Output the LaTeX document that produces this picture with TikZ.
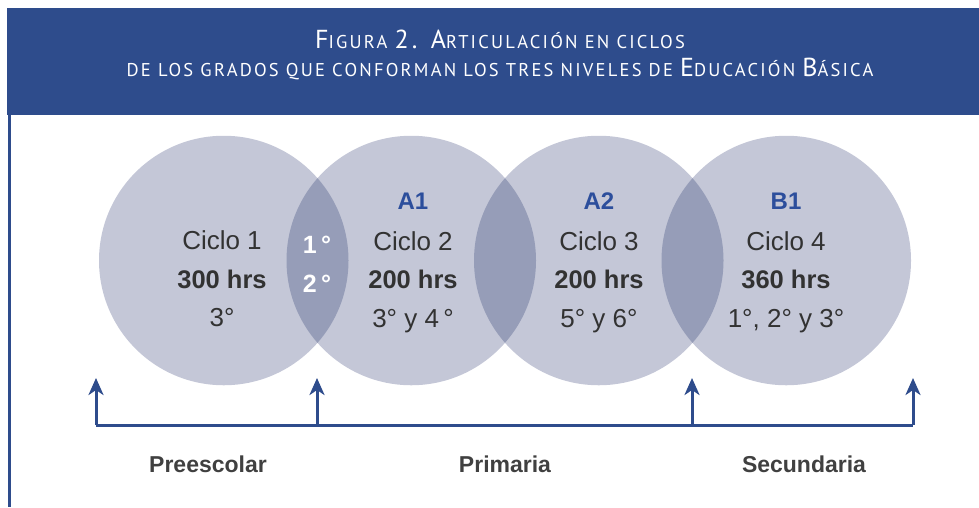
\documentclass[tikz,border=0pt]{standalone}
\usepackage{fontspec}
\setmainfont{Liberation Sans}
\newfontfamily\titlefont[LetterSpace=12]{PT Sans}
\usetikzlibrary{arrows.meta}
\definecolor{hdr}{RGB}{46,76,140}
\definecolor{circfill}{RGB}{196,199,215}
\definecolor{lensfill}{RGB}{150,157,184}
\definecolor{txtgray}{RGB}{50,50,50}
\definecolor{lblblue}{RGB}{44,78,156}
\definecolor{levgray}{RGB}{64,64,64}
\newcommand{\bigL}[1]{{\fontsize{26}{26}\selectfont #1}}
\newcommand{\smL}[1]{{\fontsize{18.5}{18.5}\selectfont #1}}
\tikzset{
  cyc/.style={circle, fill=circfill, minimum size=249.5pt, inner sep=0pt},
  ctext/.style={anchor=base, text=txtgray, font=\fontsize{26}{26}\selectfont, inner sep=0pt},
  chrs/.style={anchor=base, text=txtgray, font=\fontsize{25.5}{26}\selectfont\bfseries, inner sep=0pt},
  clbl/.style={anchor=base, text=lblblue, font=\fontsize{24}{24}\selectfont\bfseries, inner sep=0pt},
  lenstxt/.style={anchor=base, text=white, font=\fontsize{25}{26}\selectfont\bfseries, inner sep=0pt},
  levtxt/.style={anchor=base, text=levgray, font=\fontsize{23}{24}\selectfont\bfseries, inner sep=0pt},
  arr/.style={draw=hdr, line width=3pt, -{Stealth[length=17pt, width=15pt, inset=5pt]}},
  baseln/.style={draw=hdr, line width=3pt},
  ttl/.style={anchor=base, text=white, inner sep=0pt, font=\titlefont}
}
\begin{document}
\begin{tikzpicture}[x=1pt,y=-1pt]
\useasboundingbox (0,0) rectangle (979,507);
% header
\fill[hdr] (7,8) rectangle (979,115);
\draw[hdr, line width=2.5pt] (9.5,115) -- (9.5,507);
\node[ttl] (t1) at (500,48) {\bigL{F}\smL{IGURA }\bigL{2. A}\smL{RTICULACIÓN EN CICLOS}};
\node[ttl] (t2) at (500,76) {\smL{DE LOS GRADOS QUE CONFORMAN LOS TRES NIVELES DE }\bigL{E}\smL{DUCACIÓN }\bigL{B}\smL{ÁSICA}};
% circles
\node[cyc] (c1) at (223.75,260.5) {};
\node[cyc] (c2) at (411.25,260.5) {};
\node[cyc] (c3) at (598.75,260.5) {};
\node[cyc] (c4) at (786.25,260.5) {};
\begin{scope}
  \clip (c1.center) circle (124.75pt);
  \fill[lensfill] (c2.center) circle (124.75pt);
\end{scope}
\begin{scope}
  \clip (c2.center) circle (124.75pt);
  \fill[lensfill] (c3.center) circle (124.75pt);
\end{scope}
\begin{scope}
  \clip (c3.center) circle (124.75pt);
  \fill[lensfill] (c4.center) circle (124.75pt);
\end{scope}
% texts circle 1
\node[ctext] (n1a) at (222,249) {Ciclo 1};
\node[chrs] (n1b) at (222,288) {300 hrs};
\node[ctext] (n1c) at (222,326) {3°};
% lens 1
\node[lenstxt] (l1) at (317,253) {1\,°};
\node[lenstxt] (l2) at (317,292) {2\,°};
% circle 2
\node[clbl] (a1) at (413,209) {A1};
\node[ctext] (n2a) at (413,250) {Ciclo 2};
\node[chrs] (n2b) at (413,288) {200 hrs};
\node[ctext] (n2c) at (413,327) {3° y 4\,°};
% circle 3
\node[clbl] (a2) at (599,209) {A2};
\node[ctext] (n3a) at (599,250) {Ciclo 3};
\node[chrs] (n3b) at (599,288) {200 hrs};
\node[ctext] (n3c) at (599,327) {5° y 6°};
% circle 4
\node[clbl] (b1) at (786,209) {B1};
\node[ctext] (n4a) at (786,250) {Ciclo 4};
\node[chrs] (n4b) at (786,288) {360 hrs};
\node[ctext] (n4c) at (786,327) {1°, 2° y 3°};
% arrows
\coordinate (p1) at (96,425);
\coordinate (p2) at (317,425);
\coordinate (p3) at (692,425);
\coordinate (p4) at (913,425);
\coordinate (q1) at (96,378);
\coordinate (q2) at (317,378);
\coordinate (q3) at (692,378);
\coordinate (q4) at (913,378);
\draw[baseln] (p1) -- (p4);
\draw[arr] (p1) -- (q1);
\draw[arr] (p2) -- (q2);
\draw[arr] (p3) -- (q3);
\draw[arr] (p4) -- (q4);
% levels
\node[levtxt] (pre) at (208,472) {Preescolar};
\node[levtxt] (pri) at (505,472) {Primaria};
\node[levtxt] (sec) at (804,472) {Secundaria};
\end{tikzpicture}
\end{document}
